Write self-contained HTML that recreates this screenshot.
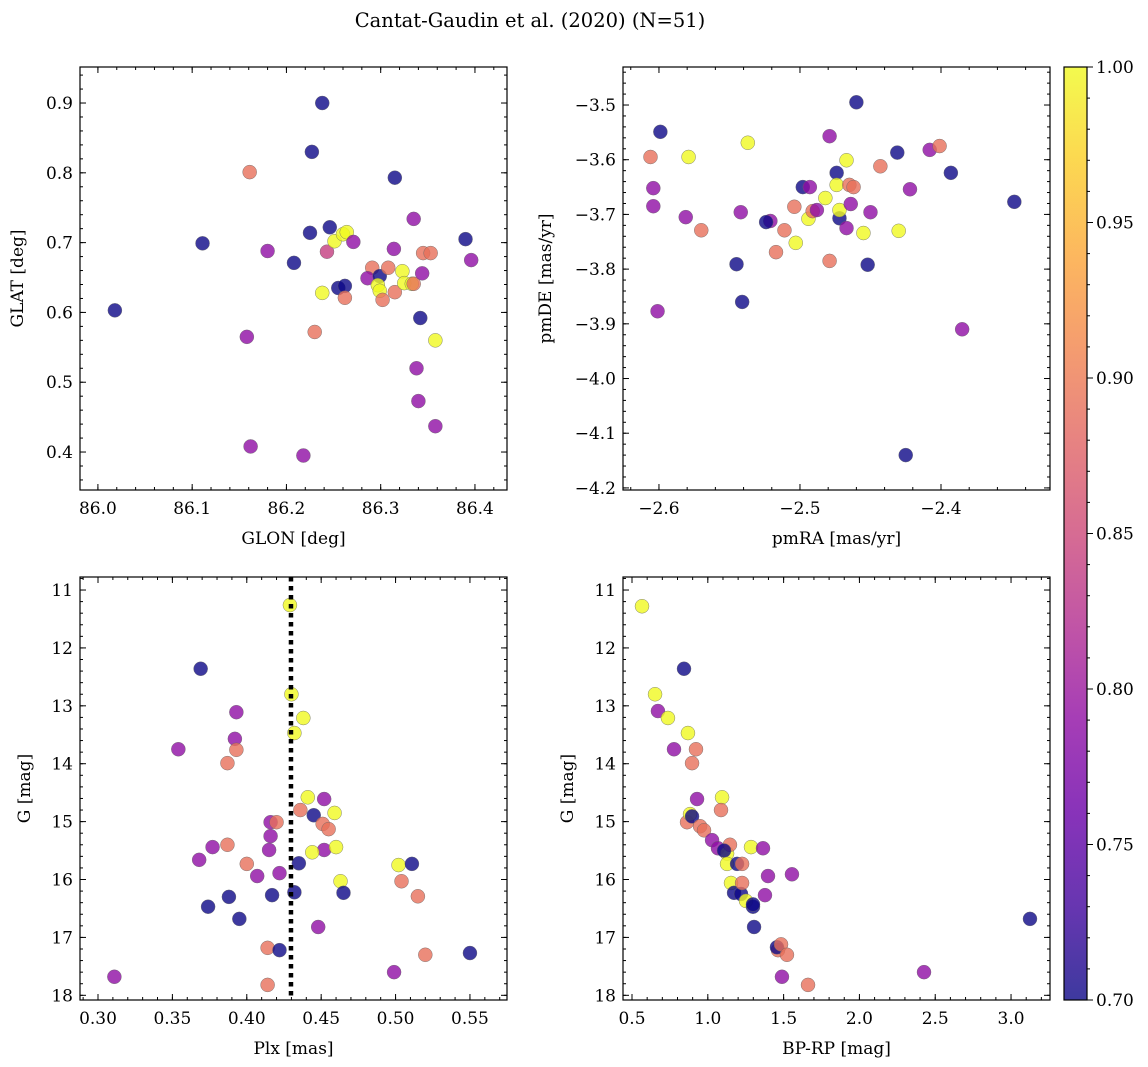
<!DOCTYPE html>
<html><head><meta charset="utf-8">
<style>
body{margin:0;background:#fff;}
svg{display:block;font-family:"DejaVu Serif","Liberation Serif",serif;}
</style></head>
<body>
<svg id="fig" width="1148" height="1067" viewBox="0 0 1148 1067">
<text x="530" y="27" text-anchor="middle" font-size="19.5">Cantat-Gaudin et al. (2020) (N=51)</text>
</svg>
<script>
// ---- Panel 1: GLON / GLAT
const p1X=[86.018,86.111,86.161,86.238,86.227,86.315,86.180,86.208,86.225,86.246,86.243,86.251,86.260,86.264,86.271,86.238,86.255,86.262,86.262,86.230,86.158,86.162,86.218,86.291,86.286,86.299,86.297,86.299,86.302,86.308,86.314,86.315,86.323,86.325,86.333,86.335,86.335,86.342,86.344,86.345,86.353,86.358,86.338,86.340,86.358,86.390,86.396];
const p1Y=[0.603,0.699,0.801,0.900,0.830,0.793,0.688,0.671,0.714,0.722,0.687,0.702,0.712,0.715,0.701,0.628,0.635,0.638,0.621,0.572,0.565,0.408,0.395,0.664,0.649,0.652,0.639,0.631,0.618,0.664,0.691,0.629,0.659,0.642,0.641,0.734,0.641,0.592,0.656,0.685,0.685,0.560,0.520,0.473,0.437,0.705,0.675];
const p1P=[0.70,0.70,0.89,0.70,0.70,0.70,0.79,0.70,0.70,0.70,0.84,1.00,1.00,1.00,0.79,1.00,0.70,0.70,0.89,0.89,0.79,0.79,0.79,0.89,0.79,0.70,1.00,1.00,0.89,0.89,0.79,0.89,1.00,1.00,1.00,0.79,0.89,0.70,0.79,0.89,0.89,1.00,0.79,0.79,0.79,0.70,0.79];
const p1XTicks=[86.0,86.1,86.2,86.3,86.4];
const p1YTicks=[0.4,0.5,0.6,0.7,0.8,0.9];
// ---- Panel 2: pmRA / pmDE
const p2X=[-2.599,-2.606,-2.579,-2.604,-2.604,-2.537,-2.460,-2.581,-2.570,-2.542,-2.521,-2.524,-2.517,-2.511,-2.545,-2.541,-2.601,-2.504,-2.503,-2.498,-2.493,-2.494,-2.491,-2.488,-2.482,-2.479,-2.474,-2.479,-2.474,-2.472,-2.472,-2.467,-2.467,-2.465,-2.464,-2.462,-2.455,-2.452,-2.450,-2.443,-2.431,-2.430,-2.422,-2.408,-2.401,-2.393,-2.348,-2.385,-2.425];
const p2Y=[-3.549,-3.595,-3.595,-3.652,-3.685,-3.569,-3.495,-3.705,-3.729,-3.696,-3.712,-3.714,-3.769,-3.729,-3.791,-3.860,-3.877,-3.686,-3.752,-3.650,-3.650,-3.708,-3.694,-3.692,-3.670,-3.557,-3.624,-3.785,-3.646,-3.707,-3.692,-3.725,-3.601,-3.646,-3.681,-3.650,-3.734,-3.792,-3.696,-3.612,-3.587,-3.730,-3.654,-3.582,-3.575,-3.624,-3.677,-3.910,-4.140];
const p2P=[0.70,0.89,1.00,0.79,0.79,1.00,0.70,0.79,0.89,0.79,0.79,0.70,0.89,0.89,0.70,0.70,0.79,0.89,1.00,0.70,0.79,1.00,0.89,0.79,1.00,0.79,0.70,0.89,1.00,0.70,1.00,0.79,1.00,0.89,0.79,0.89,1.00,0.70,0.79,0.89,0.70,1.00,0.79,0.79,0.89,0.70,0.70,0.79,0.70];
const p2XTicks=[-2.6,-2.5,-2.4];
const p2YTicks=[-4.2,-4.1,-4.0,-3.9,-3.8,-3.7,-3.6,-3.5];
// ---- Panel 3: Plx / G
const p3X=[0.429,0.369,0.430,0.438,0.432,0.393,0.392,0.393,0.354,0.387,0.441,0.436,0.452,0.445,0.416,0.420,0.451,0.455,0.459,0.452,0.444,0.460,0.416,0.415,0.368,0.387,0.377,0.400,0.435,0.407,0.422,0.502,0.511,0.463,0.465,0.504,0.432,0.417,0.388,0.374,0.395,0.448,0.515,0.414,0.422,0.414,0.311,0.499,0.520,0.550];
const p3Y=[11.26,12.36,12.80,13.21,13.47,13.11,13.57,13.76,13.75,13.99,14.58,14.80,14.61,14.89,15.01,15.01,15.04,15.13,14.85,15.49,15.53,15.44,15.25,15.49,15.66,15.40,15.44,15.73,15.72,15.94,15.89,15.75,15.73,16.03,16.23,16.03,16.22,16.27,16.30,16.47,16.68,16.82,16.29,17.18,17.22,17.82,17.68,17.60,17.30,17.27];
const p3P=[1.00,0.70,1.00,1.00,1.00,0.79,0.79,0.89,0.79,0.89,1.00,0.89,0.79,0.70,0.79,0.89,0.89,0.89,1.00,0.79,1.00,1.00,0.79,0.79,0.79,0.89,0.79,0.89,0.70,0.79,0.79,1.00,0.70,1.00,0.70,0.89,0.70,0.70,0.70,0.70,0.70,0.79,0.89,0.89,0.70,0.89,0.79,0.79,0.89,0.70];
const p3XTicks=[0.30,0.35,0.40,0.45,0.50,0.55];
const p3YTicks=[11,12,13,14,15,16,17,18];
const plxMedian=0.4297;
// ---- Panel 4: BP-RP / G
const p4X=[0.566,0.843,0.652,0.671,0.737,0.777,0.869,0.922,0.896,0.929,1.094,1.087,0.863,0.883,0.896,0.949,0.975,1.028,1.067,1.127,1.146,1.107,1.127,1.193,1.226,1.285,1.364,1.153,1.173,1.219,1.226,1.252,1.298,1.298,1.377,1.397,1.555,1.305,1.463,1.456,1.483,1.522,1.489,1.661,2.426,3.125];
const p4Y=[11.28,12.36,12.80,13.09,13.21,13.75,13.47,13.75,13.99,14.61,14.58,14.80,15.01,14.87,14.91,15.08,15.15,15.32,15.46,15.55,15.40,15.50,15.73,15.73,15.73,15.44,15.46,16.06,16.23,16.25,16.06,16.37,16.47,16.43,16.27,15.94,15.91,16.82,17.22,17.17,17.12,17.30,17.68,17.82,17.60,16.68];
const p4P=[1.00,0.70,1.00,0.79,1.00,0.79,1.00,0.89,0.89,0.79,1.00,0.89,0.89,1.00,0.70,0.89,0.89,0.79,0.79,1.00,0.89,0.70,1.00,0.70,0.89,1.00,0.79,1.00,0.70,0.70,0.89,1.00,0.70,0.70,0.79,0.79,0.79,0.70,0.89,0.70,0.89,0.89,0.79,0.89,0.79,0.70];
const p4XTicks=[0.5,1.0,1.5,2.0,2.5,3.0];
const p4YTicks=[11,12,13,14,15,16,17,18];
// ---- Colorbar
const cbTicks=[0.70,0.75,0.80,0.85,0.90,0.95,1.00];

const NS='http://www.w3.org/2000/svg';
const svg=document.getElementById('fig');
const plasma=['#0d0887','#41049d','#6a00a8','#8f0da4','#b12a90','#cc4778','#e16462','#f2844b','#fca636','#fcce25','#f0f921'];
function hex(h){return [1,3,5].map(i=>parseInt(h.substr(i,2),16));}
function cmap(p){let t=Math.max(0,Math.min(1,(p-0.7)/0.3))*10;let i=Math.min(9,Math.floor(t));let f=t-i;
 const a=hex(plasma[i]),b=hex(plasma[i+1]);return 'rgb('+a.map((v,k)=>Math.round(v+(b[k]-v)*f)).join(',')+')';}
function mk(tag,attrs,parent){const e=document.createElementNS(NS,tag);for(const k in attrs)e.setAttribute(k,attrs[k]);(parent||svg).appendChild(e);return e;}
function fmt(v,d){return (v<0?'\u2212':'')+Math.abs(v).toFixed(d);}

function panel(o){
 const g=mk('g',{});
 
 
 const sx=v=>o.L+(v-o.x0)/(o.x1-o.x0)*(o.R-o.L);
 const sy=v=>o.B-(v-o.y0)/(o.y1-o.y0)*(o.B-o.T);
 const pg=mk('g',{},g);
 
 
 for(let i=0;i<o.xs.length;i++){
  const c=mk('circle',{cx:sx(o.xs[i]),cy:sy(o.ys[i]),r:7,fill:cmap(o.ps[i]),'fill-opacity':0.8,stroke:'#666','stroke-width':0.4},pg);
  
  
 }
 if(o.vline!==undefined){
  const l=mk('line',{x1:sx(o.vline),x2:sx(o.vline),y1:o.T,y2:o.B,stroke:'#000','stroke-width':4.5,'stroke-dasharray':'4.5 4.5'},g);
  
  
 }
 const fr=mk('rect',{x:o.L,y:o.T,width:o.R-o.L,height:o.B-o.T,fill:'none',stroke:'#000','stroke-width':1.2},g);
 
 
 const tk=mk('g',{stroke:'#000','stroke-width':1},g);
 
 
 const xs0=Math.ceil(o.x0/o.xm-1e-6),xs1=Math.floor(o.x1/o.xm+1e-6);
 for(let k=xs0;k<=xs1;k++){const x=sx(k*o.xm);mk('line',{x1:x,x2:x,y1:o.B,y2:o.B-3},tk);mk('line',{x1:x,x2:x,y1:o.T,y2:o.T+3},tk);}
 const ys0=Math.ceil(Math.min(o.y0,o.y1)/o.ym-1e-6),ys1=Math.floor(Math.max(o.y0,o.y1)/o.ym+1e-6);
 for(let k=ys0;k<=ys1;k++){const y=sy(k*o.ym);mk('line',{x1:o.L,x2:o.L+3,y1:y,y2:y},tk);mk('line',{x1:o.R,x2:o.R-3,y1:y,y2:y},tk);}
 o.xt.forEach(v=>{const x=sx(v);mk('line',{x1:x,x2:x,y1:o.B,y2:o.B-6},tk);mk('line',{x1:x,x2:x,y1:o.T,y2:o.T+6},tk);
  const t=mk('text',{x:x,y:o.B+24,'text-anchor':'middle','font-size':17,stroke:'none'},g);t.textContent=fmt(v,o.xd);
  });
 o.yt.forEach(v=>{const y=sy(v);mk('line',{x1:o.L,x2:o.L+6,y1:y,y2:y},tk);mk('line',{x1:o.R,x2:o.R-6,y1:y,y2:y},tk);
  const t=mk('text',{x:o.L-7,y:y+6,'text-anchor':'end','font-size':17},g);t.textContent=fmt(v,o.yd);
  });
 const xl=mk('text',{x:(o.L+o.R)/2,y:o.B+54,'text-anchor':'middle','font-size':17},g);xl.textContent=o.xlab;
 
 const yx=o.ylx,yc=(o.T+o.B)/2;
 const yl=mk('text',{x:yx,y:yc,'text-anchor':'middle','font-size':17,transform:'rotate(-90 '+yx+' '+yc+')'},g);yl.textContent=o.ylab;
 
}

panel({name:'glon-glat-panel',L:80,R:507,T:67,B:490,x0:85.981,x1:86.434,y0:0.3456,y1:0.9516,xs:p1X,ys:p1Y,ps:p1P,xt:p1XTicks,yt:p1YTicks,xm:0.02,ym:0.02,xd:1,yd:1,xlab:'GLON [deg]',ylab:'GLAT [deg]',ylx:23});
panel({name:'proper-motion-panel',L:623,R:1050,T:67,B:490,x0:-2.6255,x1:-2.3227,y0:-4.2038,y1:-3.4305,xs:p2X,ys:p2Y,ps:p2P,xt:p2XTicks,yt:p2YTicks,xm:0.02,ym:0.02,xd:1,yd:1,xlab:'pmRA [mas/yr]',ylab:'pmDE [mas/yr]',ylx:551});
panel({name:'parallax-magnitude-panel',L:80,R:507,T:577,B:1000,x0:0.2879,x1:0.5749,y0:18.081,y1:10.775,xs:p3X,ys:p3Y,ps:p3P,xt:p3XTicks,yt:p3YTicks,xm:0.01,ym:0.2,xd:2,yd:0,xlab:'Plx [mas]',ylab:'G [mag]',ylx:30,vline:plxMedian});
panel({name:'color-magnitude-panel',L:623,R:1050,T:577,B:1000,x0:0.4406,x1:3.257,y0:18.081,y1:10.775,xs:p4X,ys:p4Y,ps:p4P,xt:p4XTicks,yt:p4YTicks,xm:0.1,ym:0.2,xd:1,yd:0,xlab:'BP-RP [mag]',ylab:'G [mag]',ylx:573});

(function(){
 const L=1064,R=1087,T=67,B=1000;
 const g=mk('g',{});
 
 
 const defs=mk('defs',{},g);
 const gr=mk('linearGradient',{id:'cbg',x1:0,y1:1,x2:0,y2:0},defs);
 plasma.forEach((c,i)=>mk('stop',{offset:i/10,'stop-color':c},gr));
 mk('rect',{x:L,y:T,width:R-L,height:B-T,fill:'url(#cbg)','fill-opacity':0.8},g);
 mk('rect',{x:L,y:T,width:R-L,height:B-T,fill:'none',stroke:'#000','stroke-width':1.2},g);
 const sy=v=>B-(v-0.7)/0.3*(B-T);
 for(let k=70;k<=100;k++){const y=sy(k/100);mk('line',{x1:R,x2:R+3,y1:y,y2:y,stroke:'#000','stroke-width':1},g);}
 cbTicks.forEach(v=>{const y=sy(v);mk('line',{x1:R,x2:R+6,y1:y,y2:y,stroke:'#000','stroke-width':1},g);
  const t=mk('text',{x:R+9,y:y+6,'font-size':17},g);t.textContent=v.toFixed(2);
  });
})();
</script>
</body></html>
